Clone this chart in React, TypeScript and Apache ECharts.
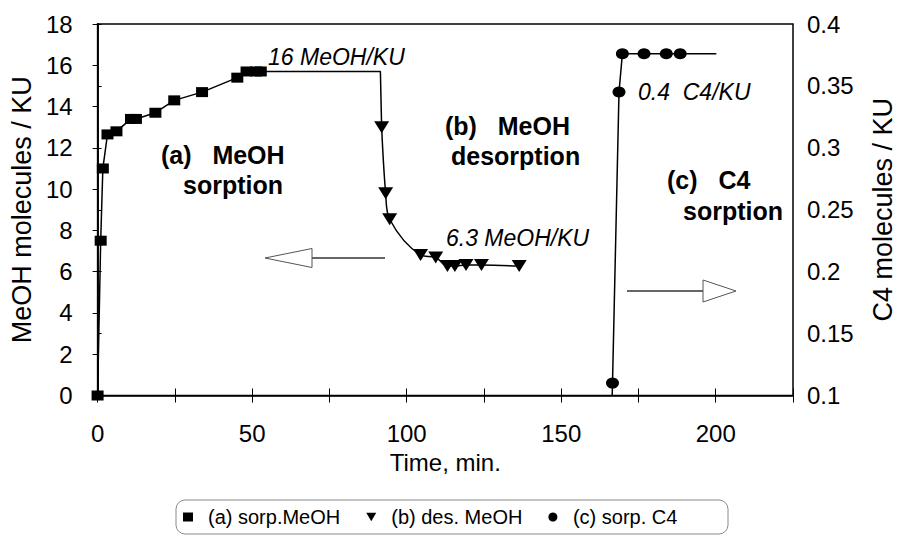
import React, { useEffect, useRef } from "react";
import * as echarts from "echarts";

const FONT = '"Liberation Sans", Arial, Helvetica, sans-serif';

// Time axis (min) and the two uptake axes
const timeTicks = { min: 0, max: 225, step: 25, labelStep: 50 };
const meohTicks = { min: 0, max: 18, step: 2 };
const c4Ticks = { min: 0.1, max: 0.4, step: 0.05 };

// (a) MeOH sorption: [time, MeOH molecules / KU]
const sorpMeOH: number[][] = [
  [0, 0], [1.0, 7.5], [1.7, 11.0], [3.2, 12.65], [6.1, 12.8], [10.8, 13.4],
  [12.4, 13.4], [18.7, 13.7], [24.8, 14.3], [33.8, 14.7], [45.2, 15.4],
  [48.2, 15.7], [51.3, 15.7], [52.8, 15.7],
];

// plateau held at 16 MeOH/KU until desorption starts
const plateauLink: number[][] = [[52.8, 15.7], [91.5, 15.7], [91.9, 13.0]];

// (b) MeOH desorption
const desMeOH: number[][] = [
  [91.9, 13.0], [93.2, 9.8], [94.5, 8.54], [104.5, 6.81], [109.4, 6.69],
  [113.2, 6.27], [115.6, 6.27], [119.2, 6.32], [124.2, 6.32], [136.4, 6.27],
];

// (c) C4 sorption: [time, C4 molecules / KU]; first and last points carry no marker
const sorpC4: number[][] = [
  [166.5, 0.1], [166.6, 0.11], [168.7, 0.345], [169.8, 0.376], [176.8, 0.376],
  [184.0, 0.376], [188.5, 0.376], [200.2, 0.376],
];

const seriesNames = ["(a) sorp.MeOH", "(b) des. MeOH", "(c) sorp. C4"];
const TRI_DOWN = "path://M0,0L10,0L5,8.5Z";

export default function App() {
  const ref = useRef<HTMLDivElement>(null);

  useEffect(() => {
    if (!ref.current) return;
    const chart = echarts.init(ref.current, undefined, { renderer: "svg" });

    const c4Data = sorpC4.map((p, i) =>
      i === 0 || i === sorpC4.length - 1
        ? { value: p, symbol: "none" }
        : { value: p }
    );

    const axisText = { color: "#000", fontFamily: FONT, fontSize: 24 };
    const bold = { fill: "#000", fontFamily: FONT, fontSize: 25, fontWeight: "bold" as const };
    const ital = { fill: "#000", fontFamily: FONT, fontSize: 23, fontStyle: "italic" as const };
    const arrowStroke = { stroke: "#333", lineWidth: 1.5 };
    const headStyle = { fill: "#fff", stroke: "#555", lineWidth: 1 };

    chart.setOption({
      animation: false,
      backgroundColor: "#fff",
      grid: {
        left: 91,
        right: 101,
        top: 24,
        bottom: 140.5,
        show: true,
        borderColor: "#000",
        borderWidth: 1.5,
      },
      legend: {
        left: 183,
        top: 507,
        padding: 0,
        itemGap: 26,
        itemWidth: 10,
        itemHeight: 9,
        textStyle: { color: "#000", fontFamily: FONT, fontSize: 20, padding: [0, 0, 0, 10] },
        data: [
          { name: seriesNames[0], icon: "rect" },
          { name: seriesNames[1], icon: TRI_DOWN },
          { name: seriesNames[2], icon: "circle" },
        ],
      },
      xAxis: [
        {
          type: "value",
          min: timeTicks.min,
          max: timeTicks.max,
          interval: timeTicks.step,
          position: "bottom",
          axisLine: { show: true, lineStyle: { color: "#000", width: 1.5 } },
          axisTick: { show: true, inside: false, length: 7, lineStyle: { color: "#000", width: 1 } },
          axisLabel: {
            ...axisText,
            margin: 26,
            formatter: (v: number) => (v % timeTicks.labelStep === 0 ? String(v) : ""),
          },
          splitLine: { show: false },
          name: "Time, min.",
          nameLocation: "middle",
          nameGap: 55,
          nameTextStyle: axisText,
        },
        {
          type: "value",
          min: timeTicks.min,
          max: timeTicks.max,
          interval: timeTicks.step,
          position: "bottom",
          axisLine: { show: false },
          axisTick: { show: true, inside: true, length: 7, lineStyle: { color: "#000", width: 1 } },
          axisLabel: { show: false },
          splitLine: { show: false },
        },
      ],
      yAxis: [
        {
          type: "value",
          min: meohTicks.min,
          max: meohTicks.max,
          interval: meohTicks.step,
          position: "left",
          axisLine: { show: true, lineStyle: { color: "#000", width: 1.5 } },
          axisTick: { show: true, length: 5, lineStyle: { color: "#000", width: 1 } },
          axisLabel: { ...axisText, margin: 25, padding: [10, 0, 0, 0] },
          splitLine: { show: false },
          name: "MeOH molecules / KU",
          nameLocation: "middle",
          nameGap: 56,
          nameRotate: 90,
          nameTextStyle: { ...axisText, fontSize: 27 },
        },
        {
          type: "value",
          min: c4Ticks.min,
          max: c4Ticks.max,
          interval: c4Ticks.step,
          position: "right",
          axisLine: { show: true, lineStyle: { color: "#000", width: 1.5 } },
          axisTick: { show: true, length: 4, lineStyle: { color: "#000", width: 1 } },
          axisLabel: {
            ...axisText,
            margin: 14,
            formatter: (v: number) => String(+v.toFixed(2)),
          },
          splitLine: { show: false },
          name: "C4 molecules / KU",
          nameLocation: "middle",
          nameGap: 76,
          nameRotate: 90,
          nameTextStyle: { ...axisText, fontSize: 27 },
        },
      ],
      series: [
        {
          name: seriesNames[0],
          type: "line",
          xAxisIndex: 0,
          yAxisIndex: 0,
          data: sorpMeOH,
          symbol: "rect",
          symbolSize: [12, 10],
          itemStyle: { color: "#000" },
          lineStyle: { color: "#000", width: 1.5 },
          z: 3,
        },
        {
          name: "plateau",
          type: "line",
          xAxisIndex: 0,
          yAxisIndex: 0,
          data: plateauLink,
          symbol: "none",
          lineStyle: { color: "#000", width: 1.5 },
          z: 2,
        },
        {
          name: seriesNames[1],
          type: "line",
          xAxisIndex: 0,
          yAxisIndex: 0,
          data: desMeOH,
          smooth: 0.35,
          symbol: TRI_DOWN,
          symbolSize: [15, 12],
          itemStyle: { color: "#000" },
          lineStyle: { color: "#000", width: 1.5 },
          z: 3,
        },
        {
          name: seriesNames[2],
          type: "line",
          xAxisIndex: 0,
          yAxisIndex: 1,
          data: c4Data,
          symbol: "circle",
          symbolSize: [13, 11],
          itemStyle: { color: "#000" },
          lineStyle: { color: "#000", width: 1.5 },
          z: 3,
        },
      ],
      graphic: [
        // legend frame
        {
          type: "rect",
          shape: { x: 176, y: 500, width: 552, height: 34, r: 9 },
          style: { fill: "none", stroke: "#8a8a8a", lineWidth: 1 },
          z: -1,
        },

        { type: "text", left: 268, top: 45, style: { ...ital, text: "16 MeOH/KU" } },
        { type: "text", left: 446, top: 226, style: { ...ital, text: "6.3 MeOH/KU" } },
        { type: "text", left: 638, top: 80, style: { ...ital, text: "0.4  C4/KU" } },

        { type: "text", left: 161, top: 142, style: { ...bold, text: "(a)   MeOH" } },
        { type: "text", left: 183, top: 172, style: { ...bold, text: "sorption" } },
        { type: "text", left: 445, top: 113, style: { ...bold, text: "(b)   MeOH" } },
        { type: "text", left: 451, top: 143, style: { ...bold, text: "desorption" } },
        { type: "text", left: 667, top: 167, style: { ...bold, text: "(c)   C4" } },
        { type: "text", left: 683, top: 198, style: { ...bold, text: "sorption" } },

        // arrow towards the MeOH axis
        { type: "line", shape: { x1: 312, y1: 258, x2: 385, y2: 258 }, style: arrowStroke },
        {
          type: "polygon",
          shape: { points: [[265, 258], [312, 248.5], [312, 267.5]] },
          style: headStyle,
        },
        // arrow towards the C4 axis
        { type: "line", shape: { x1: 627, y1: 291, x2: 703, y2: 291 }, style: arrowStroke },
        {
          type: "polygon",
          shape: { points: [[736, 291], [703, 280], [703, 302]] },
          style: headStyle,
        },
      ],
    });

    return () => chart.dispose();
  }, []);

  return (
    <div
      ref={ref}
      style={{ position: "fixed", left: 0, top: 0, width: 904, height: 536, background: "#fff" }}
    />
  );
}
